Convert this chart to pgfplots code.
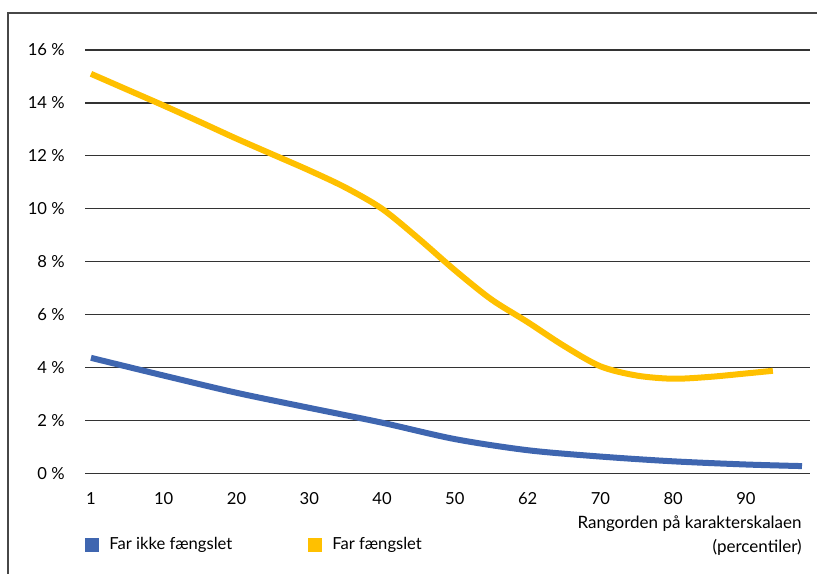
\documentclass[border=0pt]{standalone}
\usepackage{pgfplots}
\pgfplotsset{compat=1.18}
\usepackage{fontspec}
\setmainfont{Lato}

\definecolor{farblue}{HTML}{3F66B0}
\definecolor{faryellow}{HTML}{FFC000}
\definecolor{gridgray}{HTML}{333333}

\begin{document}
\begin{tikzpicture}[x=0.5pt,y=0.5pt]
% picture size = 817 x 573 px, 1 px = 0.5pt
\useasboundingbox (0,0) rectangle (817,573);
\draw[color=gridgray!90, line width=0.7pt] (8,-20) -- (8,560) -- (840,560);

\begin{axis}[
    at={(42.5pt,49.75pt)}, anchor=south west,
    scale only axis,
    width=362.5pt, height=211.75pt,
    xmin=-0.82, xmax=98.8,
    ymin=0, ymax=16,
    axis line style={draw=none},
    clip=false,
    font=\fontsize{8.3}{10}\selectfont,
    xtick={0,10,...,90},
    xticklabels={1,10,20,30,40,50,62,70,80,90},
    ytick={0,2,...,16},
    yticklabels={0 \%,2 \%,4 \%,6 \%,8 \%,10 \%,12 \%,14 \%,16 \%},
    major tick length=0pt,
    tick style={draw=none},
    ymajorgrids,
    grid style={color=gridgray, line width=0.6pt},
    yticklabel style={anchor=east, inner sep=0pt, xshift=-10pt},
    xticklabel style={anchor=north, inner sep=0pt, yshift=-9.5pt},
    legend columns=2,
    legend style={draw=none, fill=none, inner sep=0pt,
        at={(0,-0.169)}, anchor=west,
        font=\fontsize{8.3}{10}\selectfont,
        nodes={inner sep=0pt},
        /tikz/every odd column/.append style={column sep=5pt},
        /tikz/every even column/.append style={column sep=38pt}},
    legend image code/.code={\fill[#1, draw=none] (0pt,-3.5pt) rectangle (7pt,3.5pt);},
]
\addplot[color=farblue, line width=3pt, smooth, tension=0.5] coordinates {
(0,4.37) (10,3.70) (20,3.05) (30,2.48) (40,1.92) (50,1.30)
(60,0.88) (70,0.64) (80,0.46) (90,0.34) (97.7,0.28)
};
\addlegendentry{Far ikke fængslet}
\addplot[color=faryellow, line width=3pt, smooth, tension=0.5] coordinates {
(0,15.10) (5,14.50) (10,13.90) (15,13.28) (20,12.65) (25,12.05)
(30,11.45) (35,10.80) (40,10.00) (45,8.88) (50,7.68) (55,6.58)
(60,5.72) (65,4.82) (70,4.05) (75,3.70) (80,3.58) (85,3.65)
(90,3.78) (93.7,3.88)
};
\addlegendentry{Far fængslet}
\node[anchor=north east, align=right, inner sep=0pt, font=\fontsize{8.5}{12}\selectfont]
    at (rel axis cs:0.989,-0.098) {Rangorden på karakterskalaen\\(percentiler)};
\end{axis}
\end{tikzpicture}
\end{document}
